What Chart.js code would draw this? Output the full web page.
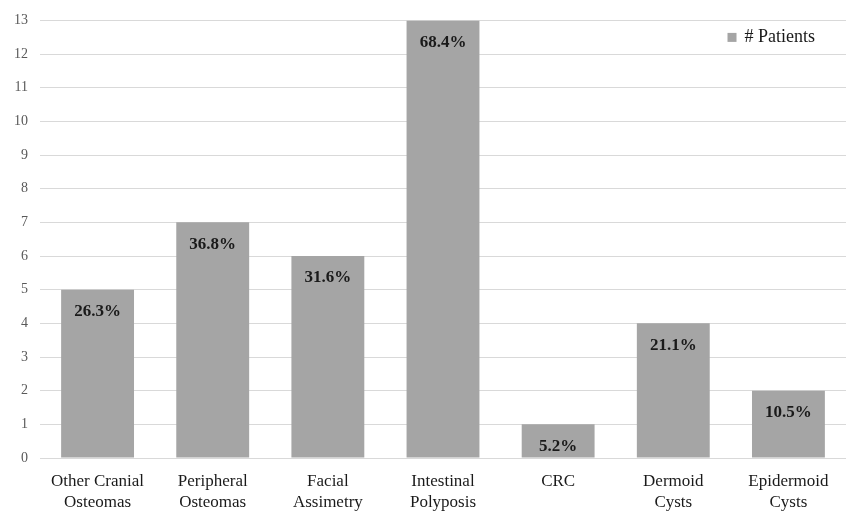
<!DOCTYPE html>
<html>
<head>
<meta charset="utf-8">
<script src="https://cdn.jsdelivr.net/npm/chart.js@4/dist/chart.umd.min.js"></script>
<style>
  html, body { margin: 0; padding: 0; background: #ffffff; }
  #wrap { width: 846px; height: 514px; }
</style>
</head>
<body>
<div id="wrap"><canvas id="chart" width="846" height="514"></canvas></div>
<script>
// Findings per category (number of patients) and their share
const categories = [
  ['Other Cranial', 'Osteomas'],
  ['Peripheral', 'Osteomas'],
  ['Facial', 'Assimetry'],
  ['Intestinal', 'Polyposis'],
  ['CRC'],
  ['Dermoid', 'Cysts'],
  ['Epidermoid', 'Cysts']
];
const patients = [5, 7, 6, 13, 1, 4, 2];
const percentLabels = ['26.3%', '36.8%', '31.6%', '68.4%', '5.2%', '21.1%', '10.5%'];
const seriesName = '# Patients';

const SERIF = '"Liberation Serif", "DejaVu Serif", serif';
const BAR_COLOR = '#a5a5a5';

// Percentage label drawn inside the top of each bar
const barLabels = {
  id: 'barLabels',
  afterDatasetsDraw(chart) {
    const ctx = chart.ctx;
    const meta = chart.getDatasetMeta(0);
    ctx.save();
    ctx.font = 'bold 17px ' + SERIF;
    ctx.fillStyle = '#1a1a1a';
    ctx.textAlign = 'center';
    ctx.textBaseline = 'middle';
    meta.data.forEach((bar, i) => {
      ctx.fillText(percentLabels[i], bar.x, bar.y + 22);
    });
    ctx.restore();
  }
};

// Legend entry placed in the upper right of the plot area
const insideLegend = {
  id: 'insideLegend',
  afterDraw(chart) {
    const ctx = chart.ctx;
    const area = chart.chartArea;
    const ds = chart.data.datasets[0];
    ctx.save();
    ctx.font = '18px ' + SERIF;
    ctx.textBaseline = 'middle';
    ctx.textAlign = 'left';
    const textW = ctx.measureText(ds.label).width;
    const y = area.top + 17;
    const textX = area.right - 31 - textW;
    ctx.fillStyle = ds.backgroundColor;
    ctx.fillRect(textX - 17, y - 4.5, 9, 9);
    ctx.fillStyle = '#1a1a1a';
    ctx.fillText(ds.label, textX, y);
    ctx.restore();
  }
};

new Chart(document.getElementById('chart'), {
  type: 'bar',
  data: {
    labels: categories,
    datasets: [{
      label: seriesName,
      data: patients,
      backgroundColor: BAR_COLOR,
      borderWidth: 0,
      barPercentage: 0.633,
      categoryPercentage: 1.0
    }]
  },
  options: {
    responsive: false,
    animation: false,
    devicePixelRatio: 1,
    layout: { padding: { top: 10, right: 0, left: 0, bottom: 0 } },
    plugins: {
      legend: { display: false },
      tooltip: { enabled: false }
    },
    scales: {
      x: {
        grid: { display: false, drawTicks: false },
        border: { display: false },
        ticks: {
          font: { family: SERIF, size: 17, lineHeight: 1.24 },
          color: '#1a1a1a',
          padding: 13,
          maxRotation: 0,
          autoSkip: false
        },
        afterFit(scale) { scale.height = 56; }
      },
      y: {
        min: 0,
        max: 13,
        grid: { color: '#d9d9d9', lineWidth: 1, drawTicks: false },
        border: { display: false },
        ticks: {
          stepSize: 1,
          font: { family: SERIF, size: 14 },
          color: '#595959',
          padding: 12
        },
        afterFit(scale) { scale.width = 40; }
      }
    }
  },
  plugins: [barLabels, insideLegend]
});
</script>
</body>
</html>
